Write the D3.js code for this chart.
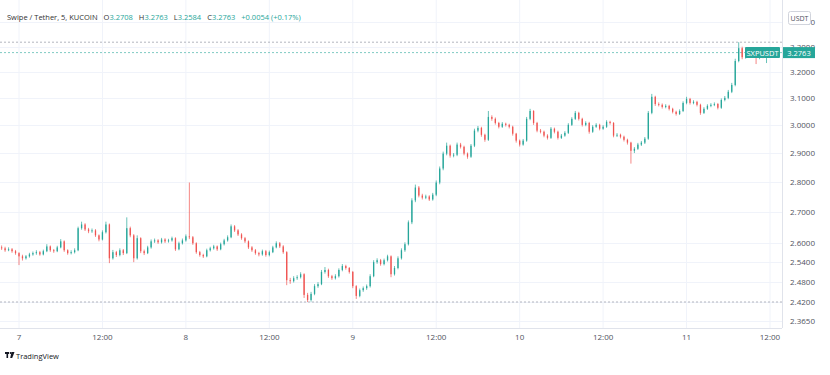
<!DOCTYPE html>
<html>
<head>
<meta charset="utf-8">
<title>SXPUSDT</title>
<script src="https://cdn.jsdelivr.net/npm/d3@7"></script>
<style>
  body { margin: 0; background: #fff; }
  svg { display: block; font-family: "Open Sans", Roboto, sans-serif; }
</style>
</head>
<body>
<svg id="chart" width="830" height="375"></svg>
<script>
// 30 minute candles, from 6th 21:30 to 11th 11:30 (UTC)
var firstOpen = 2.586;
var closes = [
  2.583, 2.577, 2.580, 2.574, 2.568, 2.558, 2.552, 2.558, 2.564, 2.568,
  2.571, 2.564, 2.574, 2.589, 2.577, 2.574, 2.586, 2.605, 2.577, 2.568,
  2.571, 2.577, 2.647, 2.659, 2.643, 2.637, 2.640, 2.624, 2.611, 2.634,
  2.659, 2.552, 2.571, 2.562, 2.577, 2.568, 2.647, 2.624, 2.552, 2.615,
  2.574, 2.568, 2.586, 2.605, 2.608, 2.602, 2.611, 2.605, 2.608, 2.615,
  2.580, 2.599, 2.608, 2.621, 2.618, 2.599, 2.571, 2.562, 2.558, 2.577,
  2.583, 2.589, 2.580, 2.596, 2.608, 2.618, 2.653, 2.640, 2.627, 2.615,
  2.605, 2.586, 2.577, 2.568, 2.564, 2.574, 2.562, 2.571, 2.586, 2.599,
  2.589, 2.571, 2.485, 2.482, 2.491, 2.494, 2.503, 2.441, 2.426, 2.444,
  2.467, 2.473, 2.510, 2.516, 2.497, 2.491, 2.497, 2.516, 2.528, 2.522,
  2.510, 2.467, 2.438, 2.455, 2.461, 2.467, 2.497, 2.540, 2.546, 2.534,
  2.546, 2.558, 2.503, 2.522, 2.552, 2.577, 2.596, 2.666, 2.738, 2.781,
  2.754, 2.747, 2.751, 2.741, 2.757, 2.798, 2.846, 2.898, 2.926, 2.891,
  2.894, 2.930, 2.922, 2.898, 2.887, 2.926, 2.980, 2.990, 2.965, 2.947,
  3.030, 3.023, 3.008, 2.994, 3.005, 3.001, 2.994, 2.969, 2.944, 2.930,
  2.944, 3.023, 3.052, 3.008, 2.980, 2.976, 2.962, 2.954, 2.987, 2.976,
  2.954, 2.962, 2.972, 3.001, 3.023, 3.045, 3.023, 3.001, 3.008, 2.976,
  2.994, 3.001, 2.987, 2.994, 3.012, 3.008, 2.962, 2.965, 2.958, 2.947,
  2.937, 2.908, 2.915, 2.930, 2.937, 2.951, 3.045, 3.105, 3.078, 3.075,
  3.067, 3.071, 3.060, 3.049, 3.041, 3.052, 3.082, 3.097, 3.082, 3.086,
  3.075, 3.045, 3.060, 3.071, 3.075, 3.078, 3.064, 3.093, 3.101, 3.124,
  3.150, 3.243, 3.294, 3.258, 3.270, 3.262, 3.266, 3.255, 3.270, 3.262,
  3.2763
];
var highs = [
  2.592, 2.588, 2.586, 2.584, 2.578, 2.571, 2.563, 2.562, 2.569, 2.573,
  2.577, 2.575, 2.579, 2.596, 2.592, 2.581, 2.591, 2.612, 2.608, 2.580,
  2.577, 2.583, 2.652, 2.668, 2.663, 2.648, 2.646, 2.644, 2.627, 2.640,
  2.668, 2.662, 2.578, 2.575, 2.583, 2.581, 2.682, 2.652, 2.628, 2.624,
  2.618, 2.579, 2.591, 2.611, 2.614, 2.612, 2.616, 2.615, 2.613, 2.620,
  2.618, 2.604, 2.614, 2.627, 2.798, 2.622, 2.602, 2.575, 2.566, 2.582,
  2.588, 2.594, 2.592, 2.601, 2.613, 2.624, 2.659, 2.657, 2.644, 2.631,
  2.619, 2.608, 2.590, 2.581, 2.572, 2.579, 2.578, 2.576, 2.591, 2.605,
  2.603, 2.593, 2.574, 2.492, 2.497, 2.500, 2.509, 2.506, 2.447, 2.450,
  2.473, 2.479, 2.516, 2.525, 2.520, 2.501, 2.503, 2.521, 2.534, 2.532,
  2.525, 2.513, 2.470, 2.460, 2.466, 2.472, 2.503, 2.546, 2.552, 2.550,
  2.551, 2.563, 2.561, 2.528, 2.558, 2.583, 2.602, 2.672, 2.745, 2.791,
  2.786, 2.760, 2.757, 2.755, 2.763, 2.805, 2.853, 2.905, 2.937, 2.930,
  2.900, 2.937, 2.936, 2.926, 2.902, 2.932, 2.987, 2.997, 2.994, 2.969,
  3.052, 3.036, 3.028, 3.012, 3.011, 3.009, 3.005, 2.998, 2.972, 2.948,
  2.950, 3.030, 3.060, 3.055, 3.012, 2.986, 2.980, 2.967, 2.993, 2.991,
  2.980, 2.968, 2.978, 3.007, 3.029, 3.052, 3.049, 3.027, 3.014, 3.012,
  3.000, 3.007, 3.005, 3.000, 3.018, 3.016, 3.011, 2.971, 2.969, 2.962,
  2.951, 2.940, 2.921, 2.936, 2.943, 2.957, 3.052, 3.116, 3.109, 3.084,
  3.080, 3.077, 3.075, 3.064, 3.053, 3.058, 3.088, 3.105, 3.101, 3.092,
  3.090, 3.079, 3.066, 3.077, 3.081, 3.084, 3.082, 3.099, 3.108, 3.131,
  3.158, 3.252, 3.318, 3.300, 3.278, 3.275, 3.272, 3.270, 3.276, 3.275,
  3.280
];
var lows = [
  2.578, 2.572, 2.574, 2.569, 2.563, 2.531, 2.545, 2.548, 2.554, 2.560,
  2.563, 2.560, 2.561, 2.571, 2.572, 2.569, 2.571, 2.583, 2.572, 2.563,
  2.564, 2.567, 2.574, 2.642, 2.638, 2.631, 2.632, 2.619, 2.605, 2.608,
  2.630, 2.537, 2.548, 2.556, 2.558, 2.562, 2.565, 2.618, 2.540, 2.548,
  2.568, 2.562, 2.565, 2.582, 2.600, 2.597, 2.598, 2.600, 2.601, 2.604,
  2.575, 2.577, 2.595, 2.604, 2.612, 2.594, 2.566, 2.557, 2.553, 2.555,
  2.573, 2.579, 2.575, 2.577, 2.592, 2.604, 2.615, 2.635, 2.622, 2.610,
  2.600, 2.581, 2.572, 2.563, 2.558, 2.560, 2.557, 2.558, 2.568, 2.583,
  2.584, 2.566, 2.470, 2.474, 2.478, 2.486, 2.490, 2.432, 2.420, 2.421,
  2.440, 2.462, 2.470, 2.505, 2.492, 2.486, 2.487, 2.493, 2.512, 2.517,
  2.505, 2.461, 2.429, 2.434, 2.450, 2.456, 2.463, 2.494, 2.535, 2.529,
  2.530, 2.542, 2.494, 2.499, 2.518, 2.548, 2.572, 2.592, 2.660, 2.732,
  2.748, 2.741, 2.742, 2.736, 2.737, 2.752, 2.792, 2.840, 2.892, 2.884,
  2.885, 2.889, 2.916, 2.892, 2.880, 2.883, 2.921, 2.974, 2.958, 2.940,
  2.943, 3.016, 3.002, 2.988, 2.990, 2.995, 2.988, 2.962, 2.937, 2.923,
  2.926, 2.940, 3.018, 3.001, 2.974, 2.970, 2.956, 2.948, 2.950, 2.970,
  2.948, 2.950, 2.958, 2.968, 2.997, 3.019, 3.017, 2.995, 2.996, 2.969,
  2.972, 2.990, 2.981, 2.983, 2.990, 3.002, 2.956, 2.957, 2.952, 2.941,
  2.930, 2.863, 2.900, 2.911, 2.925, 2.932, 2.947, 3.040, 3.071, 3.069,
  3.061, 3.062, 3.054, 3.043, 3.035, 3.037, 3.048, 3.077, 3.076, 3.077,
  3.069, 3.038, 3.041, 3.056, 3.066, 3.070, 3.058, 3.060, 3.088, 3.096,
  3.119, 3.145, 3.238, 3.250, 3.252, 3.255, 3.256, 3.231, 3.250, 3.254,
  3.235
];
var priceTicks = [3.4, 3.3, 3.2, 3.1, 3.0, 2.9, 2.8, 2.7, 2.6, 2.54, 2.48, 2.42, 2.365];
var timeTicks = ["2021-09-07T00:00Z", "2021-09-07T12:00Z", "2021-09-08T00:00Z", "2021-09-08T12:00Z",
                 "2021-09-09T00:00Z", "2021-09-09T12:00Z", "2021-09-10T00:00Z", "2021-09-10T12:00Z",
                 "2021-09-11T00:00Z", "2021-09-11T12:00Z"];
var startTime = Date.UTC(2021, 8, 6, 21, 30);
var stepMs = 30 * 60 * 1000;
var rangeHigh = 3.318, rangeLow = 2.42, lastPrice = 3.2763;

var up = "#26a69a", down = "#ef5350";
var plotRight = 782, plotBottom = 328;

var candles = closes.map(function(c, i) {
  return {
    t: new Date(startTime + i * stepMs),
    o: i == 0 ? firstOpen : closes[i - 1],
    h: highs[i], l: lows[i], c: c
  };
});

var svg = d3.select("#chart");

var x = d3.scaleUtc()
  .domain([new Date("2021-09-07T00:00Z"), new Date("2021-09-11T12:00Z")])
  .range([19, 770]);

// log price scale, as in the screenshot
var y = d3.scaleLog()
  .domain([2.42, 3.2])
  .range([302, 72]);

// grid
svg.append("g").selectAll("line")
  .data(timeTicks)
  .enter().append("line")
  .attr("x1", function(d) { return x(new Date(d)); })
  .attr("x2", function(d) { return x(new Date(d)); })
  .attr("y1", 0).attr("y2", plotBottom)
  .attr("stroke", "#f0f3fa");

svg.append("g").selectAll("line")
  .data(priceTicks)
  .enter().append("line")
  .attr("x1", 0).attr("x2", plotRight)
  .attr("y1", function(d) { return Math.round(y(d)) + 0.5; })
  .attr("y2", function(d) { return Math.round(y(d)) + 0.5; })
  .attr("stroke", "#f0f3fa");

// visible range high / low and last price lines
svg.append("line")
  .attr("x1", 0).attr("x2", plotRight)
  .attr("y1", y(rangeHigh)).attr("y2", y(rangeHigh))
  .attr("stroke", "#b2b5be").attr("stroke-dasharray", "2,2");
svg.append("line")
  .attr("x1", 0).attr("x2", plotRight)
  .attr("y1", y(rangeLow)).attr("y2", y(rangeLow))
  .attr("stroke", "#b2b5be").attr("stroke-dasharray", "2,2");
svg.append("line")
  .attr("x1", 0).attr("x2", plotRight)
  .attr("y1", y(lastPrice)).attr("y2", y(lastPrice))
  .attr("stroke", "#7fcbc3").attr("stroke-dasharray", "2,2");

// candles
var bw = 1.3;
var g = svg.append("g");
g.selectAll("line.wick")
  .data(candles)
  .enter().append("line")
  .attr("class", "wick")
  .attr("x1", function(d) { return x(d.t); })
  .attr("x2", function(d) { return x(d.t); })
  .attr("y1", function(d) { return y(d.h); })
  .attr("y2", function(d) { return y(d.l); })
  .attr("stroke", function(d) { return d.c >= d.o ? up : down; })
  .attr("stroke-width", 0.7);

g.selectAll("rect")
  .data(candles)
  .enter().append("rect")
  .attr("x", function(d) { return x(d.t) - bw / 2; })
  .attr("width", bw)
  .attr("y", function(d) { return y(Math.max(d.o, d.c)); })
  .attr("height", function(d) { return Math.max(0.8, Math.abs(y(d.o) - y(d.c))); })
  .attr("fill", function(d) { return d.c >= d.o ? up : down; });

// axes borders
svg.append("line")
  .attr("x1", plotRight + 0.5).attr("x2", plotRight + 0.5)
  .attr("y1", 0).attr("y2", plotBottom)
  .attr("stroke", "#e0e3eb");
svg.append("line")
  .attr("x1", 0).attr("x2", plotRight)
  .attr("y1", plotBottom + 0.5).attr("y2", plotBottom + 0.5)
  .attr("stroke", "#e0e3eb");

// price labels
svg.append("g").selectAll("text")
  .data(priceTicks)
  .enter().append("text")
  .attr("x", 790)
  .attr("y", function(d) { return y(d) + 3; })
  .attr("font-size", 8)
  .attr("fill", "#50535e")
  .text(function(d) { return d.toFixed(4); });

// time labels
svg.append("g").selectAll("text")
  .data(timeTicks)
  .enter().append("text")
  .attr("x", function(d) { return x(new Date(d)); })
  .attr("y", 340)
  .attr("text-anchor", "middle")
  .attr("font-size", 8)
  .attr("fill", "#50535e")
  .text(function(d) {
    var t = new Date(d);
    return t.getUTCHours() == 0 ? String(t.getUTCDate()) : "12:00";
  });

// currency box
svg.append("rect")
  .attr("x", 788.5).attr("y", 11.5).attr("width", 22).attr("height", 13)
  .attr("rx", 2).attr("fill", "#fff").attr("stroke", "#d1d4dc");
svg.append("text")
  .attr("x", 799.5).attr("y", 21).attr("text-anchor", "middle")
  .attr("font-size", 7).attr("fill", "#50535e").text("USDT");

// last price labels
var ly = y(lastPrice);
svg.append("rect")
  .attr("x", 745).attr("y", ly - 5.5).attr("width", 35).attr("height", 11)
  .attr("rx", 1).attr("fill", up);
svg.append("text")
  .attr("x", 762.5).attr("y", ly + 3).attr("text-anchor", "middle")
  .attr("font-size", 7.5).attr("fill", "#fff").text("SXPUSDT");
svg.append("rect")
  .attr("x", 783).attr("y", ly - 5.5).attr("width", 32).attr("height", 11)
  .attr("fill", up);
svg.append("text")
  .attr("x", 799).attr("y", ly + 3).attr("text-anchor", "middle")
  .attr("font-size", 7.5).attr("fill", "#fff").text(lastPrice.toFixed(4));

// header legend
var hdr = svg.append("text")
  .attr("x", 7).attr("y", 20)
  .attr("font-size", 7.5).attr("fill", "#333");
hdr.append("tspan").text("Swipe / Tether, 5, KUCOIN");
var ohlc = [["O", "3.2708"], ["H", "3.2763"], ["L", "3.2584"], ["C", "3.2763"]];
ohlc.forEach(function(p) {
  hdr.append("tspan").attr("dx", 6).text(p[0]);
  hdr.append("tspan").attr("fill", up).text(p[1]);
});
hdr.append("tspan").attr("dx", 6).attr("fill", up).text("+0.0054 (+0.17%)");

// TradingView mark
var logo = svg.append("g").attr("transform", "translate(5,352)").attr("fill", "#131722");
logo.append("rect").attr("x", 0).attr("y", 0).attr("width", 4).attr("height", 2);
logo.append("rect").attr("x", 1.5).attr("y", 0).attr("width", 1.6).attr("height", 6);
logo.append("circle").attr("cx", 5.6).attr("cy", 1).attr("r", 1);
logo.append("path").attr("d", "M6.5,0 L9.5,0 L7.2,6 L5.2,6 Z");
svg.append("text")
  .attr("x", 16).attr("y", 358.5)
  .attr("font-size", 7.5).attr("fill", "#131722").text("TradingView");
</script>
</body>
</html>
